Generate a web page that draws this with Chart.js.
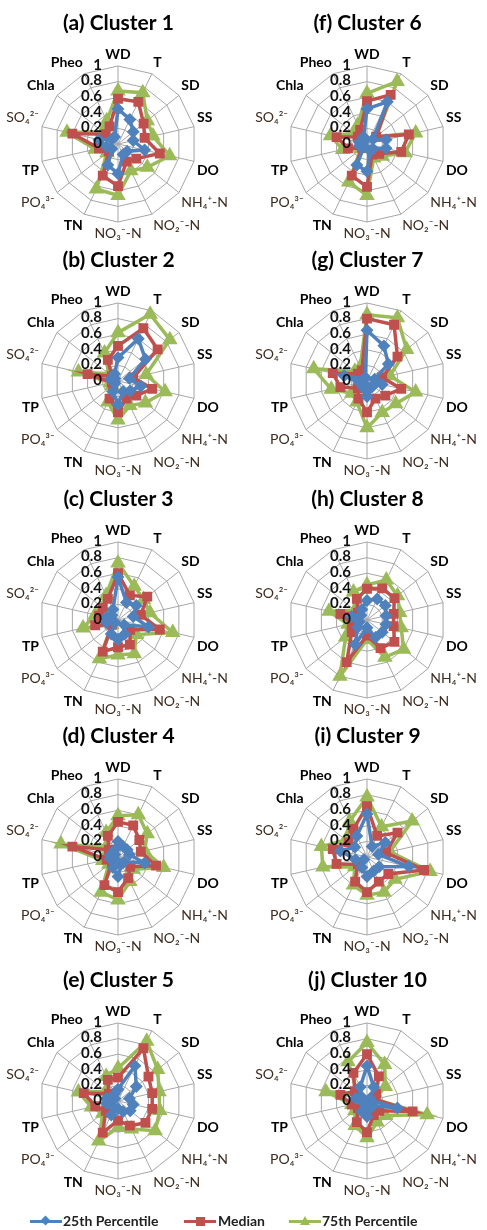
<!DOCTYPE html>
<html>
<head>
<meta charset="utf-8">
<script src="https://cdn.jsdelivr.net/npm/chart.js@4.4.1/dist/chart.umd.min.js"></script>
<style>
  body { margin: 0; background: #fff; width: 487px; height: 1230px; position: relative; overflow: hidden; font-family: Lato, "Open Sans", sans-serif; }
  .cell { position: absolute; width: 263px; height: 240px; }
  .legend-item { position: absolute; top: 1212px; height: 18px; font: bold 14px Lato, sans-serif; color: #222; line-height: 18px; white-space: nowrap; }
  .legend-line { position: absolute; top: 8px; height: 3px; width: 32px; }
  .legend-text { position: absolute; top: 0; }
  .mk { position: absolute; }
</style>
</head>
<body>
<div id="grid"></div>
<div class="legend-item" style="left:30px">
  <span class="legend-line" style="left:0;background:#4f81bd"></span>
  <span class="mk" style="left:12px;top:5px;width:7px;height:7px;background:#4f81bd;transform:rotate(45deg)"></span>
  <span class="legend-text" style="left:33px">25th Percentile</span>
</div>
<div class="legend-item" style="left:184px">
  <span class="legend-line" style="left:0;background:#c0504d"></span>
  <span class="mk" style="left:12px;top:5px;width:9px;height:9px;background:#c0504d"></span>
  <span class="legend-text" style="left:34px">Median</span>
</div>
<div class="legend-item" style="left:289px">
  <span class="legend-line" style="left:0;background:#9bbb59"></span>
  <span class="mk" style="left:11px;top:4px;width:0;height:0;border-left:5px solid transparent;border-right:5px solid transparent;border-bottom:9px solid #9bbb59"></span>
  <span class="legend-text" style="left:33px">75th Percentile</span>
</div>
<script>
// axis order: WD, T, SD, SS, DO, NH4, NO2, NO3, TN, PO4, TP, SO4, Chla, Pheo
const axisLabels = ['WD', 'T', 'SD', 'SS', 'DO', 'NH₄⁺-N', 'NO₂⁻-N', 'NO₃⁻-N', 'TN', 'PO₄³⁻', 'TP', 'SO₄²⁻', 'Chla', 'Pheo']
const tickLabels = ['0', '0.2', '0.4', '0.6', '0.8', '1']
const clusterTitles = ['(a) Cluster 1', '(b) Cluster 2', '(c) Cluster 3', '(d) Cluster 4', '(e) Cluster 5',
  '(f) Cluster 6', '(g) Cluster 7', '(h) Cluster 8', '(i) Cluster 9', '(j) Cluster 10']
const seriesNames = ['25th Percentile', 'Median', '75th Percentile']

const cluster1P25 = [0.45, 0.35, 0.25, 0.2, 0.35, 0.15, 0.15, 0.38, 0.3, 0.1, 0.15, 0.25, 0.1, 0.1]
const cluster1Med = [0.58, 0.6, 0.42, 0.35, 0.55, 0.3, 0.25, 0.54, 0.45, 0.15, 0.25, 0.6, 0.2, 0.25]
const cluster1P75 = [0.68, 0.73, 0.48, 0.46, 0.68, 0.48, 0.38, 0.66, 0.64, 0.18, 0.3, 0.67, 0.25, 0.33]

const cluster2P25 = [0.3, 0.6, 0.45, 0.15, 0.3, 0.2, 0.15, 0.3, 0.15, 0.05, 0.05, 0.1, 0.05, 0.1]
const cluster2Med = [0.45, 0.75, 0.65, 0.2, 0.45, 0.3, 0.25, 0.4, 0.25, 0.08, 0.08, 0.4, 0.1, 0.3]
const cluster2P75 = [0.62, 0.95, 0.85, 0.37, 0.62, 0.45, 0.35, 0.5, 0.3, 0.1, 0.1, 0.52, 0.15, 0.4]

const cluster3P25 = [0.55, 0.25, 0.3, 0.2, 0.4, 0.1, 0.2, 0.25, 0.2, 0.05, 0.15, 0.15, 0.1, 0.15]
const cluster3Med = [0.6, 0.35, 0.48, 0.3, 0.55, 0.2, 0.35, 0.35, 0.45, 0.1, 0.3, 0.25, 0.25, 0.3]
const cluster3P75 = [0.73, 0.48, 0.42, 0.42, 0.72, 0.3, 0.48, 0.45, 0.55, 0.1, 0.46, 0.3, 0.25, 0.35]

const cluster4P25 = [0.2, 0.15, 0.15, 0.15, 0.35, 0.1, 0.1, 0.25, 0.15, 0.05, 0.1, 0.1, 0.05, 0.1]
const cluster4Med = [0.45, 0.45, 0.35, 0.3, 0.5, 0.2, 0.3, 0.45, 0.4, 0.1, 0.15, 0.6, 0.15, 0.3]
const cluster4P75 = [0.53, 0.6, 0.48, 0.35, 0.6, 0.25, 0.35, 0.55, 0.5, 0.15, 0.2, 0.75, 0.2, 0.35]

const cluster5P25 = [0.15, 0.5, 0.3, 0.15, 0.2, 0.2, 0.15, 0.1, 0.2, 0.1, 0.15, 0.15, 0.05, 0.1]
const cluster5Med = [0.3, 0.75, 0.5, 0.45, 0.45, 0.45, 0.35, 0.25, 0.45, 0.2, 0.3, 0.45, 0.15, 0.3]
const cluster5P75 = [0.42, 0.85, 0.65, 0.54, 0.55, 0.61, 0.4, 0.34, 0.57, 0.25, 0.35, 0.52, 0.2, 0.35]

const cluster6P25 = [0.45, 0.6, 0.1, 0.25, 0.25, 0.1, 0.1, 0.35, 0.3, 0.05, 0.1, 0.1, 0.05, 0.1]
const cluster6Med = [0.55, 0.7, 0.15, 0.55, 0.45, 0.2, 0.15, 0.55, 0.45, 0.08, 0.25, 0.4, 0.15, 0.2]
const cluster6P75 = [0.65, 0.89, 0.15, 0.64, 0.5, 0.25, 0.2, 0.66, 0.54, 0.1, 0.32, 0.48, 0.22, 0.27]

const cluster7P25 = [0.65, 0.5, 0.35, 0.1, 0.2, 0.1, 0.1, 0.2, 0.1, 0.05, 0.1, 0.3, 0.05, 0.05]
const cluster7Med = [0.8, 0.8, 0.5, 0.2, 0.45, 0.3, 0.25, 0.4, 0.25, 0.15, 0.35, 0.45, 0.15, 0.15]
const cluster7P75 = [0.85, 0.9, 0.65, 0.3, 0.64, 0.47, 0.45, 0.6, 0.3, 0.25, 0.47, 0.7, 0.2, 0.2]

const cluster8P25 = [0.25, 0.3, 0.3, 0.25, 0.25, 0.25, 0.25, 0.1, 0.35, 0.15, 0.1, 0.2, 0.1, 0.15]
const cluster8Med = [0.4, 0.45, 0.45, 0.35, 0.35, 0.45, 0.4, 0.2, 0.6, 0.25, 0.2, 0.35, 0.15, 0.3]
const cluster8P75 = [0.45, 0.57, 0.5, 0.43, 0.45, 0.6, 0.53, 0.25, 0.8, 0.35, 0.25, 0.5, 0.2, 0.4]

const cluster9P25 = [0.55, 0.15, 0.3, 0.15, 0.55, 0.2, 0.2, 0.25, 0.15, 0.05, 0.15, 0.35, 0.2, 0.3]
const cluster9Med = [0.65, 0.3, 0.5, 0.25, 0.75, 0.35, 0.35, 0.45, 0.35, 0.15, 0.4, 0.45, 0.3, 0.4]
const cluster9P75 = [0.77, 0.43, 0.74, 0.3, 0.83, 0.46, 0.5, 0.49, 0.4, 0.2, 0.58, 0.6, 0.35, 0.51]

const cluster10P25 = [0.45, 0.2, 0.05, 0.05, 0.4, 0.1, 0.1, 0.2, 0.15, 0.05, 0.05, 0.15, 0.1, 0.2]
const cluster10Med = [0.6, 0.35, 0.15, 0.1, 0.6, 0.2, 0.2, 0.4, 0.3, 0.15, 0.2, 0.35, 0.2, 0.4]
const cluster10P75 = [0.75, 0.52, 0.3, 0.1, 0.79, 0.3, 0.3, 0.47, 0.35, 0.2, 0.2, 0.54, 0.15, 0.56]

const clusterData = [
  [cluster1P25, cluster1Med, cluster1P75],
  [cluster2P25, cluster2Med, cluster2P75],
  [cluster3P25, cluster3Med, cluster3P75],
  [cluster4P25, cluster4Med, cluster4P75],
  [cluster5P25, cluster5Med, cluster5P75],
  [cluster6P25, cluster6Med, cluster6P75],
  [cluster7P25, cluster7Med, cluster7P75],
  [cluster8P25, cluster8Med, cluster8P75],
  [cluster9P25, cluster9Med, cluster9P75],
  [cluster10P25, cluster10Med, cluster10P75]
]

const seriesColors = ['#4f81bd', '#c0504d', '#9bbb59']
const seriesMarkers = ['rectRot', 'rect', 'triangle']
const seriesRadius = [4, 4.5, 5.5]
const plainLabels = ['WD', 'T', 'SD', 'SS', 'DO', 'TN', 'TP', 'Chla', 'Pheo']
const FONT = 'Lato, "Open Sans", sans-serif'
const rowTops = [3, 240, 479, 716, 960]
const colLefts = [-13, 236]

// Excel-style value labels, left of the vertical axis, drawn over the data
const leftTicks = {
  id: 'leftTicks',
  afterDraw(chart) {
    const scale = chart.scales.r
    const ctx = chart.ctx
    ctx.save()
    ctx.font = 'bold 15px ' + FONT
    ctx.fillStyle = '#111'
    ctx.textAlign = 'right'
    ctx.textBaseline = 'middle'
    scale.ticks.forEach((t, i) => {
      const d = scale.getDistanceFromCenterForValue(t.value)
      ctx.fillText(tickLabels[i], scale.xCenter - 16, scale.yCenter - d - 1)
    })
    ctx.restore()
  }
}

const grid = document.getElementById('grid')

clusterTitles.forEach((title, k) => {
  const col = k < 5 ? 0 : 1
  const row = k % 5
  const cell = document.createElement('div')
  cell.className = 'cell'
  cell.style.left = colLefts[col] + 'px'
  cell.style.top = rowTops[row] + 'px'
  const canvas = document.createElement('canvas')
  cell.appendChild(canvas)
  grid.appendChild(cell)

  const datasets = clusterData[k].map((values, s) => ({
    label: seriesNames[s],
    data: values,
    borderColor: seriesColors[s],
    backgroundColor: seriesColors[s],
    pointBackgroundColor: seriesColors[s],
    pointBorderColor: seriesColors[s],
    pointStyle: seriesMarkers[s],
    pointRadius: seriesRadius[s],
    borderWidth: 3.5,
    fill: false
  }))

  new Chart(canvas, {
    type: 'radar',
    data: { labels: axisLabels, datasets: datasets },
    options: {
      responsive: true,
      maintainAspectRatio: false,
      animation: false,
      layout: { padding: { top: 0, bottom: 1, left: 0, right: 0 } },
      plugins: {
        legend: { display: false },
        tooltip: { enabled: false },
        title: {
          display: true,
          text: title,
          color: '#000',
          font: { family: FONT, size: 21, weight: 'bold' },
          padding: { top: 8, bottom: 10 }
        }
      },
      scales: {
        r: {
          min: 0,
          max: 1,
          ticks: { stepSize: 0.2, display: false },
          grid: { color: '#a6a6a6', lineWidth: 1 },
          angleLines: { color: '#a6a6a6', lineWidth: 1 },
          pointLabels: {
            padding: 3,
            color: (c) => plainLabels.includes(axisLabels[c.index]) ? '#000' : '#3d2b1f',
            font: (c) => ({
              family: FONT,
              size: 14,
              weight: plainLabels.includes(axisLabels[c.index]) ? 'bold' : 'normal'
            })
          }
        }
      }
    },
    plugins: [leftTicks]
  })
})
</script>
</body>
</html>
